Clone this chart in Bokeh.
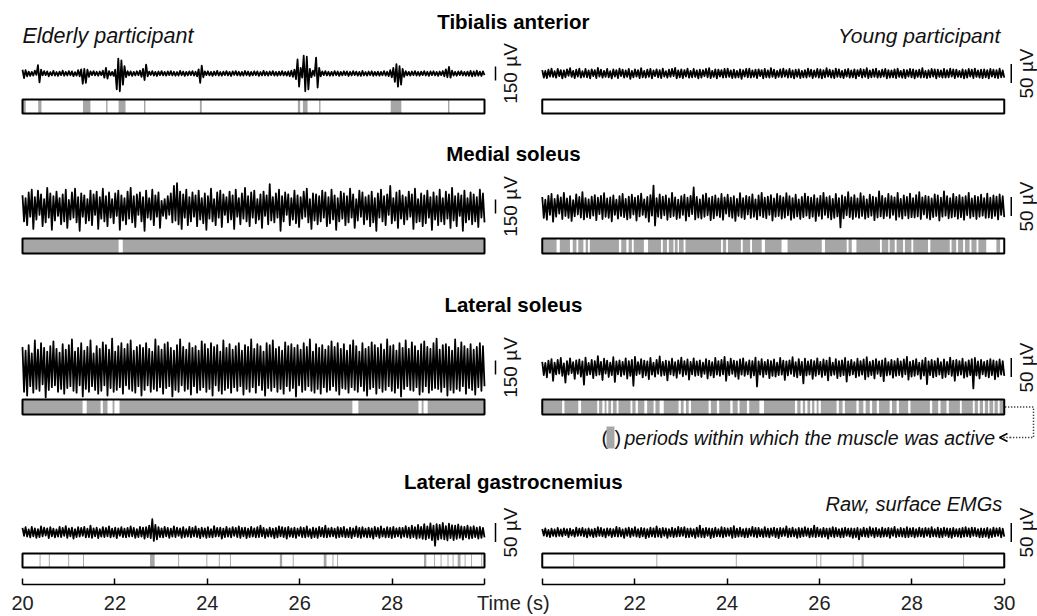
import numpy as np
from bokeh.plotting import figure
from bokeh.models import Range1d, FixedTicker, Arrow, OpenHead
from bokeh.embed import file_html
from bokeh.resources import INLINE
from bokeh.core.properties import value

# ---------------- data ----------------
muscles = ["Tibialis anterior", "Medial soleus", "Lateral soleus", "Lateral gastrocnemius"]
scale_elderly_uv = [150, 150, 150, 50]
scale_young_uv = [50, 50, 50, 50]
tick_values = [20, 22, 24, 26, 28, 30]

# raw EMG (µV), samples evenly spread over 20-30 s
ta_elderly = [40,-50,35,-30,20,-25,18,-22,30,-15, 90,-95,40,-20,25,-18,22,-30,15,-20,
 28,-22,16,-25,20,-18,30,-24,17,-21, 25,-19,22,-28,15,-23,35,-30,45,-110,
 50,-100,40,-35,22,-18,26,-20,19,-24, 21,-17,30,-45,60,-55,25,-20,18,-26,
 40,-170,160,-190,140,-120,80,-40,25,-20, 22,-27,18,-21,24,-19,30,-35,50,-70,
 95,-30,20,-16,25,-22,18,-27,21,-19, 26,-20,17,-23,22,-18,25,-21,19,-24,
 16,-22,28,-19,21,-25,18,-20,23,-17, 26,-22,19,-30,45,-100,85,-40,22,-18,
 24,-20,17,-26,21,-19,28,-22,16,-24, 20,-18,25,-21,18,-27,22,-16,26,-20,
 19,-23,17,-22,27,-19,21,-25,18,-20, 24,-18,22,-26,16,-21,28,-20,19,-23,
 21,-17,25,-22,18,-24,20,-19,26,-21, 17,-23,22,-28,30,-35,40,-60,150,-140,
 60,-45,190,-190,180,-170,50,-40,30,-25, 170,-150,60,-30,22,-18,25,-21,19,-24,
 18,-22,26,-19,21,-25,17,-20,24,-18, 22,-27,19,-21,25,-17,20,-23,18,-26,
 27,-20,16,-22,21,-19,24,-25,18,-21, 20,-24,17,-19,26,-22,19,-28,35,-40,
 60,-90,100,-140,80,-120,50,-35,25,-20, 18,-23,21,-19,26,-22,17,-24,20,-18,
 25,-21,19,-26,22,-17,24,-20,18,-25, 21,-19,27,-30,45,-40,70,-45,30,-22,
 19,-24,22,-18,26,-21,17,-23,20,-25, 28,-30,22,-26,30,-24,20,-27,23,-18]
ta_young = [9,-11,7,-12,10,-8,13,-9,6,-11, 12,-7,9,-13,8,-10,11,-6,14,-9,
 7,-12,10,-8,13,-11,6,-9,12,-10, 8,-13,11,-7,9,-12,15,-8,10,-11,
 7,-9,12,-10,6,-13,11,-8,9,-12, 13,-7,10,-11,8,-9,12,-14,7,-10,
 11,-8,9,-12,14,-10,7,-11,10,-9, 12,-13,8,-7,11,-10,9,-12,13,-8,
 6,-11,10,-9,12,-7,15,-13,8,-10, 11,-12,9,-8,13,-11,7,-10,12,-9,
 8,-13,10,-11,9,-7,12,-10,14,-12, 7,-9,11,-13,10,-8,9,-11,12,-10,
 13,-9,8,-12,10,-11,7,-10,11,-14, 9,-8,12,-10,13,-11,8,-9,10,-12,
 11,-7,9,-13,12,-10,8,-11,14,-9, 10,-12,7,-9,11,-10,13,-8,9,-11,
 12,-10,8,-13,10,-9,11,-12,7,-10, 9,-11,13,-8,10,-12,8,-9,12,-11,
 11,-13,9,-10,14,-8,10,-11,8,-12, 13,-9,11,-10,7,-12,10,-8,12,-11,
 8,-10,11,-13,9,-7,12,-11,10,-9, 14,-12,8,-10,11,-9,13,-11,7,-10,
 10,-8,12,-13,9,-11,8,-10,11,-12, 13,-9,7,-11,10,-12,9,-8,12,-10,
 11,-13,8,-9,10,-11,14,-10,7,-12, 9,-10,12,-8,11,-13,10,-9,8,-11,
 12,-11,9,-10,13,-8,11,-12,10,-9, 7,-10,11,-13,9,-11,12,-8,10,-12,
 13,-9,8,-11,10,-12,11,-10,9,-13, 12,-8,10,-11,9,-12,13,-10,8,-11]
ms_elderly = [120,-160,90,-200,150,-110,180,-240,100,-140, 170,-90,130,-210,80,-170,200,-120,140,-250,
 110,-150,160,-100,90,-190,130,-160,180,-230, 70,-140,150,-120,190,-170,100,-260,140,-110,
 120,-180,80,-150,170,-200,130,-90,160,-240, 100,-130,190,-160,110,-210,150,-120,80,-180,
 140,-100,170,-250,120,-150,90,-190,160,-130, 200,-170,110,-220,130,-90,150,-160,100,-260,
 170,-120,90,-140,180,-200,120,-110,150,-230, 60,-100,80,-130,110,-90,140,-170,220,-150,
 250,-190,160,-240,130,-120,180,-200,100,-160, 150,-110,120,-210,170,-140,90,-180,140,-250,
 110,-130,190,-160,80,-200,150,-120,170,-220, 130,-90,100,-170,160,-140,120,-240,180,-110,
 90,-190,140,-130,200,-160,110,-210,150,-120, 170,-180,80,-140,130,-230,160,-100,120,-190,
 240,-150,100,-170,140,-120,180,-260,110,-160, 150,-90,130,-200,90,-140,170,-180,120,-220,
 100,-130,160,-110,190,-170,80,-240,140,-150, 130,-190,110,-160,170,-120,150,-210,100,-180,
 180,-140,120,-250,90,-160,160,-130,140,-200, 110,-170,190,-120,130,-230,80,-150,170,-110,
 150,-190,100,-140,120,-210,160,-170,90,-260, 140,-120,180,-160,110,-200,130,-90,220,-180,
 90,-150,150,-230,170,-130,120,-190,100,-140, 160,-110,130,-240,190,-170,80,-160,140,-210,
 120,-180,170,-120,100,-250,150,-140,110,-200, 180,-160,90,-190,160,-130,130,-230,200,-150,
 110,-210,140,-100,120,-260,170,-170,90,-140, 150,-190,130,-160,100,-220,180,-120,140,-170]
ms_young = [25,-30,18,-35,28,-22,33,-40,20,-27, 30,-19,24,-33,36,-25,21,-30,27,-38,
 17,-26,32,-21,25,-29,38,-34,22,-28, 19,-31,26,-24,30,-36,23,-20,28,-33,
 35,-27,21,-30,24,-39,29,-22,18,-32, 27,-25,33,-28,20,-34,26,-30,31,-21,
 23,-37,28,-26,34,-22,19,-29,25,-40, 30,-24,55,-50,22,-27,32,-31,26,-23,
 29,-35,21,-28,36,-25,24,-33,18,-30, 27,-22,31,-37,23,-26,28,-20,50,-34,
 25,-29,19,-32,30,-27,34,-23,22,-36, 26,-31,29,-24,21,-28,33,-35,24,-19,
 31,-26,23,-30,27,-38,20,-25,35,-29, 22,-33,28,-21,25,-30,32,-27,19,-34,
 29,-24,36,-28,23,-31,26,-22,30,-37, 21,-27,33,-25,28,-32,24,-29,35,-23,
 27,-35,22,-30,31,-26,19,-33,25,-28, 34,-24,26,-31,23,-27,30,-38,21,-25,
 28,-32,36,-22,24,-29,27,-34,20,-30, 33,-26,22,-55,29,-31,25,-23,38,-28,
 24,-33,30,-27,21,-30,35,-25,27,-32, 19,-28,31,-24,26,-36,23,-29,40,-26,
 28,-31,22,-25,33,-30,27,-22,24,-35, 36,-27,20,-32,29,-24,25,-31,34,-28,
 22,-29,30,-26,38,-33,24,-21,28,-30, 26,-34,21,-28,32,-25,29,-37,23,-27,
 40,-24,27,-31,22,-29,33,-26,25,-32, 30,-28,24,-35,27,-23,36,-30,21,-26,
 28,-33,25,-27,31,-24,22,-30,34,-29, 23,-31,29,-25,26,-34,32,-22,27,-28]
ls_elderly = [220,-260,180,-300,240,-200,150,-270,290,-230, 190,-250,260,-180,210,-320,170,-240,230,-210,
 280,-190,200,-260,160,-230,250,-280,190,-220, 240,-200,300,-250,170,-270,210,-190,260,-310,
 180,-230,220,-260,290,-200,150,-240,230,-280, 200,-250,270,-190,240,-300,190,-220,310,-260,
 170,-240,230,-210,260,-280,200,-190,250,-230, 290,-250,180,-270,220,-200,240,-300,210,-240,
 260,-190,200,-260,170,-230,300,-250,230,-210, 190,-280,250,-220,270,-200,210,-310,180,-240,
 240,-260,300,-190,220,-250,190,-230,260,-290, 210,-200,230,-270,180,-240,280,-210,250,-260,
 200,-230,260,-300,220,-190,240,-250,170,-280, 290,-240,210,-220,250,-270,190,-210,230,-250,
 260,-200,180,-290,240,-230,220,-260,300,-210, 200,-270,250,-190,230,-240,170,-300,260,-220,
 240,-250,290,-210,200,-260,220,-230,180,-280, 270,-200,230,-250,250,-220,210,-310,240,-190,
 190,-260,260,-240,220,-200,300,-250,170,-270, 250,-230,210,-280,240,-210,190,-260,230,-240,
 280,-200,220,-250,260,-290,200,-220,250,-230, 180,-270,240,-210,290,-240,230,-260,170,-200,
 260,-250,200,-300,220,-230,270,-210,240,-280, 210,-220,250,-260,190,-240,300,-200,230,-250,
 240,-270,180,-220,260,-310,210,-230,290,-200, 200,-240,270,-250,230,-210,180,-290,250,-260,
 280,-200,220,-270,200,-240,260,-220,310,-230, 190,-260,240,-210,250,-300,220,-240,180,-270,
 300,-230,210,-250,270,-200,230,-280,200,-220, 250,-240,190,-290,220,-210,260,-250,230,-200]
ls_young = [15,-20,12,-26,18,-14,22,-35,13,-18, 20,-16,25,-22,11,-40,17,-19,24,-15,
 14,-30,19,-17,21,-24,16,-45,26,-20, 12,-18,20,-28,17,-21,30,-19,15,-33,
 23,-16,18,-25,13,-20,27,-38,16,-18, 19,-23,15,-19,24,-29,17,-22,20,-48,
 28,-20,14,-17,22,-26,18,-21,16,-31, 25,-19,13,-24,20,-17,29,-22,15,-20,
 18,-34,16,-18,23,-21,14,-27,19,-16, 26,-23,17,-19,21,-32,15,-18,24,-22,
 16,-20,19,-25,13,-17,22,-29,18,-21, 14,-26,25,-19,17,-22,20,-18,28,-35,
 15,-20,23,-17,18,-24,16,-30,21,-19, 24,-22,14,-18,19,-27,17,-21,26,-50,
 16,-19,22,-25,15,-18,20,-28,17,-22, 21,-24,13,-20,25,-19,18,-33,16,-21,
 19,-17,27,-23,14,-26,22,-20,15,-42, 23,-21,16,-19,20,-30,17,-22,24,-18,
 15,-25,21,-20,18,-34,26,-21,13,-19, 22,-28,17,-23,19,-20,25,-37,16,-21,
 20,-18,14,-26,23,-22,17,-19,21,-31, 27,-24,15,-20,18,-29,22,-17,16,-23,
 19,-36,24,-21,14,-19,20,-27,17,-22, 23,-20,16,-25,21,-18,28,-32,15,-24,
 18,-22,22,-19,13,-30,19,-21,25,-44, 16,-20,20,-26,17,-23,24,-19,14,-28,
 21,-25,15,-18,26,-22,18,-35,20,-21, 17,-19,23,-27,14,-24,19,-20,22,-55,
 25,-21,16,-29,20,-18,15,-23,18,-26, 22,-20,19,-31,16,-24,21,-19,17,-22]
lg_elderly = [12,-9,14,-11,8,-13,15,-10,11,-14, 9,-12,16,-10,13,-8,11,-15,14,-10,
 10,-13,8,-11,15,-12,12,-9,17,-14, 11,-10,13,-16,9,-12,14,-11,12,-9,
 15,-13,10,-12,18,-14,11,-10,13,-15, 9,-11,14,-12,12,-10,16,-13,10,-11,
 13,-15,11,-9,14,-12,10,-13,12,-11, 16,-10,12,-14,9,-12,15,-11,13,-16,
 14,-12,18,-15,35,-22,20,-18,14,-12, 11,-13,15,-10,12,-14,10,-11,16,-12,
 13,-9,11,-14,14,-12,9,-11,15,-13, 12,-10,16,-12,10,-15,13,-11,11,-14,
 14,-12,9,-13,17,-11,12,-10,13,-16, 10,-12,15,-11,11,-13,14,-9,12,-12,
 16,-14,12,-10,13,-15,10,-12,15,-11, 11,-13,14,-12,18,-10,12,-14,9,-11,
 13,-11,10,-15,12,-13,16,-10,14,-12, 12,-16,15,-11,11,-12,13,-14,10,-9,
 14,-12,12,-13,16,-11,9,-15,13,-12, 11,-14,15,-10,12,-12,18,-13,11,-11,
 13,-10,10,-14,14,-12,12,-11,15,-13, 9,-12,13,-15,11,-10,16,-12,12,-14,
 14,-11,10,-13,13,-12,11,-16,15,-10, 12,-14,16,-11,10,-13,14,-12,12,-15,
 15,-12,11,-10,13,-14,12,-11,17,-13, 13,-15,18,-12,14,-16,20,-14,15,-17,
 22,-18,16,-15,24,-20,18,-35,22,-19, 20,-16,25,-18,17,-21,23,-15,19,-20,
 18,-17,21,-14,16,-19,15,-13,18,-16, 14,-15,17,-12,13,-16,15,-14,12,-13]
lg_young = [9,-8,11,-10,7,-12,10,-9,8,-11, 12,-9,8,-10,11,-7,9,-12,10,-8,
 7,-11,13,-9,10,-8,12,-10,9,-13, 11,-9,8,-12,10,-11,14,-9,12,-10,
 9,-13,11,-8,10,-12,9,-10,15,-11, 12,-10,8,-14,11,-9,13,-12,10,-9,
 14,-11,9,-13,12,-10,11,-15,9,-12, 13,-10,11,-12,16,-11,10,-13,12,-9,
 11,-14,9,-10,13,-12,10,-11,15,-10, 12,-9,14,-13,10,-12,11,-10,9,-14,
 13,-11,18,-12,10,-13,12,-9,11,-15, 10,-12,13,-10,9,-11,14,-13,12,-10,
 11,-9,12,-14,17,-12,10,-11,13,-10, 9,-13,11,-12,10,-9,15,-11,12,-13,
 12,-10,9,-12,14,-11,10,-13,11,-9, 13,-12,10,-15,12,-10,11,-9,16,-12,
 10,-11,13,-10,9,-14,12,-12,11,-10, 14,-9,11,-13,10,-11,18,-12,13,-10,
 9,-12,12,-11,10,-16,11,-10,14,-12, 12,-10,9,-13,11,-12,13,-9,10,-11,
 11,-14,10,-12,12,-18,9,-10,13,-11, 10,-12,14,-9,11,-13,12,-10,9,-12,
 13,-11,10,-10,12,-14,11,-9,15,-12, 9,-10,12,-11,10,-13,14,-12,11,-10,
 12,-13,9,-11,13,-10,10,-12,12,-9, 11,-12,14,-10,9,-11,13,-13,10,-12,
 13,-9,11,-12,10,-14,12,-10,9,-11, 10,-13,12,-11,14,-10,11,-12,13,-9,
 12,-10,9,-13,11,-12,10,-11,12,-14, 9,-12,13,-10,11,-9,12,-13,10,-11]

# periods of activity (s): starts / ends
ta_elderly_on = [20.0, 20.34, 21.31, 21.81, 22.08, 22.63, 23.84, 25.96, 26.07, 26.42, 27.97, 29.21]
ta_elderly_off = [20.07, 20.41, 21.47, 21.84, 22.23, 22.66, 23.88, 26.01, 26.17, 26.45, 28.2, 29.24]
ta_young_on = []
ta_young_off = []
ms_elderly_on = [20.0, 22.17]
ms_elderly_off = [22.08, 30.0]
ms_young_on = [20.0, 20.38, 20.66, 20.78, 20.94, 21.03, 21.71, 21.87, 21.98, 22.29, 22.61, 22.74, 22.87, 22.96,
               23.10, 23.91, 24.02, 24.34, 24.54, 24.82, 25.31, 26.12, 26.63, 26.80, 27.35, 27.52, 27.67, 27.85,
               28.03, 28.40, 28.86, 29.0, 29.15, 29.29, 29.44, 29.83]
ms_young_off = [20.31, 20.60, 20.74, 20.89, 20.99, 21.66, 21.82, 21.94, 22.20, 22.57, 22.70, 22.84, 22.93, 23.06,
                23.87, 23.98, 24.30, 24.50, 24.75, 25.18, 26.05, 26.59, 26.70, 27.31, 27.49, 27.63, 27.81, 27.99,
                28.35, 28.82, 28.96, 29.11, 29.25, 29.40, 29.61, 29.91]
ls_elderly_on = [20.0, 21.39, 21.74, 21.95, 22.10, 27.27, 28.64, 28.77]
ls_elderly_off = [21.30, 21.69, 21.84, 21.99, 27.14, 28.57, 28.68, 30.0]
ls_young_on = [20.0, 20.48, 20.84, 21.23, 21.35, 21.43, 21.53, 21.65, 21.95, 22.07, 22.27, 22.45, 22.63, 23.0,
               23.11, 23.22, 23.65, 23.83, 24.12, 24.27, 24.48, 24.80, 25.52, 25.64, 25.74, 25.84, 25.94, 26.03,
               26.42, 26.55, 26.85, 27.0, 27.14, 27.29, 27.57, 27.72, 27.97, 28.44, 28.62, 28.80, 29.08, 29.36,
               29.47, 29.58, 29.68, 29.79, 29.90]
ls_young_off = [20.43, 20.78, 21.19, 21.30, 21.39, 21.49, 21.61, 21.91, 22.02, 22.21, 22.41, 22.54, 22.95, 23.06,
                23.17, 23.60, 23.78, 24.07, 24.23, 24.43, 24.70, 25.47, 25.59, 25.69, 25.80, 25.89, 25.98, 26.37,
                26.50, 26.80, 26.95, 27.09, 27.24, 27.52, 27.67, 27.92, 28.39, 28.57, 28.75, 29.04, 29.32, 29.43,
                29.54, 29.65, 29.76, 29.86, 30.0]
lg_elderly_on = [20.37, 20.57, 20.99, 21.31, 22.76, 23.37, 23.98, 24.25, 24.49, 25.57, 25.85, 26.52, 26.71, 26.81,
                 28.69, 28.91, 29.05, 29.2, 29.31, 29.42, 29.57, 29.71, 29.93]
lg_elderly_off = [20.39, 20.59, 21.01, 21.33, 22.86, 23.39, 24.0, 24.27, 24.51, 25.62, 25.87, 26.58, 26.73, 26.83,
                  28.74, 28.93, 29.07, 29.22, 29.33, 29.48, 29.59, 29.73, 29.95]
lg_young_on = [20.67, 22.47, 24.19, 25.93, 26.02, 26.72, 26.91, 29.11]
lg_young_off = [20.69, 22.49, 24.21, 25.95, 26.04, 26.74, 26.96, 29.13]

# ---------------- layout / style ----------------
FONT = "Liberation Sans"
GRAY = "#a6a6a6"
PX = 46.2            # pixels per second
D = 11.25            # horizontal offset (s) of the young panel
W, H = 1037, 616
X0 = 20 - 22 / PX
X1 = X0 + W / PX
YAX = 584            # y (px from top) of the time axis
BAR_PX = {150: 14.0, 50: 19.0}


def px(page_x):
    return 20 + (page_x - 22) / PX


rows = [
    dict(title_y=21, c=73, box=(99, 113)),
    dict(title_y=153, c=206, box=(238, 253)),
    dict(title_y=304, c=367, box=(399, 414)),
    dict(title_y=481, c=532, box=(553, 567)),
]
elderly = [ta_elderly, ms_elderly, ls_elderly, lg_elderly]
young = [ta_young, ms_young, ls_young, lg_young]
el_on = [ta_elderly_on, ms_elderly_on, ls_elderly_on, lg_elderly_on]
el_off = [ta_elderly_off, ms_elderly_off, ls_elderly_off, lg_elderly_off]
yo_on = [ta_young_on, ms_young_on, ls_young_on, lg_young_on]
yo_off = [ta_young_off, ms_young_off, ls_young_off, lg_young_off]

p = figure(width=W, height=H, x_range=Range1d(X0, X1), y_range=Range1d(H, 0),
           output_backend="svg", toolbar_location=None, y_axis_location=None,
           min_border_left=0, min_border_right=0, min_border_top=0, min_border_bottom=0)
p.outline_line_color = None
p.grid.visible = False
p.background_fill_color = "white"

xmid = (30 + 20 + D) / 2

for k, r in enumerate(rows):
    for panel, (sig, on, off, sc) in enumerate([(elderly[k], el_on[k], el_off[k], scale_elderly_uv[k]),
                                                 (young[k], yo_on[k], yo_off[k], scale_young_uv[k])]):
        off_x = panel * D
        gain = BAR_PX[sc] / sc
        v = np.array(sig, dtype=float)
        t = np.linspace(20, 30, len(v))
        p.line(t + off_x, r["c"] - gain * v, line_color="black", line_width=1.8, line_join="round")
        b0, b1 = r["box"]
        p.quad(left=[20 + off_x], right=[30 + off_x], top=[b0], bottom=[b1], fill_color="white", line_color=None)
        if len(on):
            p.quad(left=np.array(on) + off_x, right=np.array(off) + off_x, top=b0, bottom=b1,
                   fill_color=GRAY, line_color=None)
        p.quad(left=[20 + off_x], right=[30 + off_x], top=[b0], bottom=[b1], fill_color=None,
               line_color="black", line_width=2)
        # scale bar
        bx = 30 + off_x + (11 if panel == 0 else 7) / PX
        lx = 30 + off_x + (26 if panel == 0 else 22) / PX
        half = BAR_PX[sc] / 2
        p.segment(x0=[bx], x1=[bx], y0=[r["c"] - half], y1=[r["c"] + half], line_color="black", line_width=1.5)
        p.text(x=[lx], y=[r["c"]], text=[f"{sc} µV"], angle=np.pi / 2, text_align="center",
               text_baseline="middle", text_font=value(FONT), text_font_size="19px", text_color="#111111")
    p.text(x=[xmid], y=[r["title_y"]], text=[muscles[k]], text_align="center", text_baseline="middle",
           text_font=value(FONT), text_font_size="20.5px", text_font_style="bold", text_color="black")

# participant labels
p.text(x=[20.0], y=[35], text=["Elderly participant"], text_align="left", text_baseline="middle",
       text_font=value(FONT), text_font_size="21.5px", text_font_style="italic", text_color="#111111")
p.text(x=[30 + D - 4 / PX], y=[35], text=["Young participant"], text_align="right",
       text_baseline="middle", text_font=value(FONT), text_font_size="21px", text_font_style="italic",
       text_color="#111111")
p.text(x=[30 + D - 2 / PX], y=[503], text=["Raw, surface EMGs"], text_align="right", text_baseline="middle",
       text_font=value(FONT), text_font_size="20px", text_font_style="italic", text_color="#111111")

# legend for activity periods
ly = 437
p.text(x=[px(601)], y=[ly], text=["("], text_align="left", text_baseline="middle",
       text_font=value(FONT), text_font_size="20px", text_color="#111111")
p.quad(left=[px(606)], right=[px(614)], top=[ly - 11], bottom=[ly + 11], fill_color=GRAY, line_color=None)
p.text(x=[px(614)], y=[ly], text=[")"], text_align="left", text_baseline="middle",
       text_font=value(FONT), text_font_size="20px", text_color="#111111")
p.text(x=[px(624)], y=[ly], text=["periods within which the muscle was active"], text_align="left",
       text_baseline="middle", text_font=value(FONT), text_font_size="19.5px", text_font_style="italic",
       text_color="#111111")
cy = (rows[2]["box"][0] + rows[2]["box"][1]) / 2
p.line(x=[30 + D + 1 / PX, px(1033), px(1033), px(1010)], y=[cy, cy, ly, ly], line_color="black",
       line_width=1.5, line_dash="1 2")
p.add_layout(Arrow(end=OpenHead(size=8, line_width=1.5, line_color="black"), x_start=px(1010), y_start=ly,
                   x_end=px(999), y_end=ly, line_width=1.5, line_color="black", line_dash="1 2"))

# x axis: line segments per panel; ticks and labels from the axis
p.segment(x0=[20, 20 + D], x1=[30, 30 + D], y0=[YAX, YAX], y1=[YAX, YAX], line_color="black", line_width=1.5)
ticks = list(tick_values) + [tv + D for tv in tick_values]
p.xaxis.fixed_location = YAX
p.xaxis.ticker = FixedTicker(ticks=ticks)
overrides = {tv: str(tv) for tv in tick_values}
overrides.update({tv + D: str(tv) for tv in tick_values})
overrides[30] = ""          # "Time (s)" sits between the panels instead
overrides[20 + D] = ""
p.xaxis.major_label_overrides = overrides
p.xaxis.axis_line_color = None
p.xaxis.major_tick_in = 6
p.xaxis.major_tick_out = 0
p.xaxis.major_tick_line_width = 1.5
p.xaxis.major_tick_line_color = "black"
p.xaxis.minor_tick_line_color = None
p.xaxis.major_label_standoff = 11
p.xaxis.major_label_text_font = FONT
p.xaxis.major_label_text_font_size = "20px"
p.xaxis.major_label_text_color = "#222222"

p.text(x=[xmid], y=[YAX + 18], text=["Time (s)"], text_align="center", text_baseline="middle",
       text_font=value(FONT), text_font_size="20px", text_color="#222222")

open("out.html", "w").write(file_html(p, INLINE))
